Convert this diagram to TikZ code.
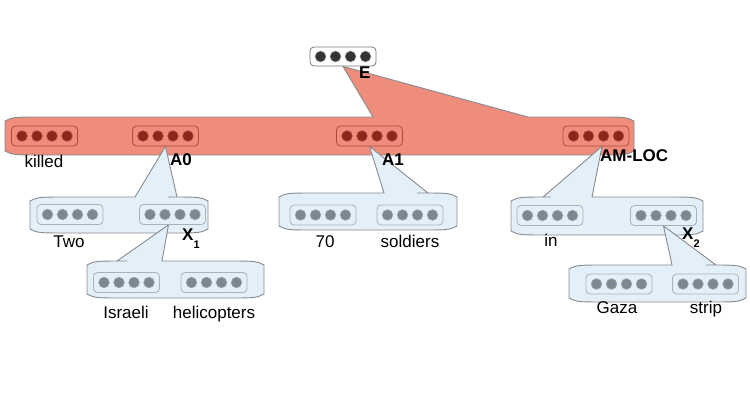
\documentclass[tikz,border=0pt]{standalone}
\usepackage{fontspec}
\setmainfont{Liberation Sans}
\usetikzlibrary{backgrounds}

\definecolor{framered}{RGB}{238,141,124}
\definecolor{vecred}{RGB}{178,72,58}
\definecolor{dotred}{RGB}{138,40,28}
\definecolor{dotredrim}{RGB}{170,70,55}
\definecolor{bubbleblue}{RGB}{228,240,249}
\definecolor{edgegray}{RGB}{135,138,142}
\definecolor{vecgray}{RGB}{168,178,188}
\definecolor{dotgray}{RGB}{125,135,143}
\definecolor{dotgrayrim}{RGB}{152,162,170}
\definecolor{topgray}{RGB}{120,120,120}
\definecolor{dotdark}{RGB}{52,52,52}

% container with a pointer to its parent: style, left, right, top, bottom, foot a, foot b, apex
\newcommand{\callbubble}[8]{%
  \path[#1] (#2,#4+4) .. controls (#2+8,#4) .. (#2+40,#4) -- (#6,#4) -- (#8) -- (#7,#4)
    -- (#3-40,#4) .. controls (#3-8,#4) .. (#3,#4+4) -- (#3,#5-4)
    .. controls (#3-8,#5) .. (#3-40,#5) -- (#2+40,#5) .. controls (#2+8,#5) .. (#2,#5-4) -- cycle;}

\begin{document}
\begin{tikzpicture}[
    x=1pt, y=-1pt,
    font=\fontsize{17}{19}\selectfont,
    vecbox/.style={rectangle, rounded corners=4pt, minimum width=66pt, minimum height=20pt, line width=0.8pt},
    redvec/.style={vecbox, draw=vecred, fill=framered},
    grayvec/.style={vecbox, draw=vecgray},
    topvec/.style={vecbox, draw=topgray, fill=white, minimum height=19pt},
    frame/.style={draw=edgegray, fill=framered, line width=0.9pt},
    bubble/.style={draw=edgegray, fill=bubbleblue, line width=0.9pt},
    reddot/.style={fill=dotred, draw=dotredrim, line width=0.6pt},
    graydot/.style={fill=dotgray, draw=dotgrayrim, line width=0.6pt},
    darkdot/.style={fill=dotdark, draw=topgray, line width=0.6pt},
    word/.style={anchor=base, inner sep=0pt},
    role/.style={anchor=base west, inner sep=0pt, font=\fontsize{17}{19}\selectfont\bfseries}
]
    \useasboundingbox (0,0) rectangle (750,400);

    % Vectors
    \node[topvec] (e) at (343,56.5) {};
    \node[redvec] (killed) at (44.5,136) {};
    \node[redvec] (a0) at (165.5,136) {};
    \node[redvec] (a1) at (369.5,136) {};
    \node[redvec] (amloc) at (596,136) {};
    \node[grayvec] (two) at (70,214.5) {};
    \node[grayvec] (x1) at (172.5,214.5) {};
    \node[grayvec] (israeli) at (126.5,282.5) {};
    \node[grayvec] (heli) at (214,282.5) {};
    \node[grayvec] (seventy) at (323,215) {};
    \node[grayvec] (soldiers) at (410,215) {};
    \node[grayvec] (inw) at (550,215.5) {};
    \node[grayvec] (x2) at (663.5,215.5) {};
    \node[grayvec] (gaza) at (619,284) {};
    \node[grayvec] (strip) at (705.5,284) {};

    % Dots
    \foreach \k in {-22.5,-7.5,7.5,22.5}
      \filldraw[darkdot] ([xshift=\k pt]e.center) circle (5.3pt);
    \foreach \n in {killed,a0,a1,amloc}
      \foreach \k in {-22.5,-7.5,7.5,22.5}
        \filldraw[reddot] ([xshift=\k pt]\n.center) circle (5.3pt);
    \foreach \n in {two,x1,israeli,heli,seventy,soldiers,inw,x2,gaza,strip}
      \foreach \k in {-22.5,-7.5,7.5,22.5}
        \filldraw[graydot] ([xshift=\k pt]\n.center) circle (5.3pt);

    % Containers
    \begin{pgfonlayer}{background}
      \callbubble{frame}{5}{634}{117}{155}{373}{528}{e.south}
      \callbubble{bubble}{30}{208}{197}{233}{135}{177}{a0.south}
      \callbubble{bubble}{87}{264}{261}{298}{117}{162}{[xshift=-4pt]x1.south}
      \callbubble{bubble}{279}{457}{193}{230}{384}{428}{a1.south}
      \callbubble{bubble}{511}{703}{197}{235}{543}{592}{[xshift=6pt]amloc.south}
      \callbubble{bubble}{569}{746}{265}{302}{672}{716}{x2.south}
    \end{pgfonlayer}

    % Words
    \node[word] (wkilled) at (44,167) {killed};
    \node[word] (wtwo) at (69,247) {Two};
    \node[word] (wisraeli) at (126,318) {Israeli};
    \node[word] (wheli) at (214,318) {helicopters};
    \node[word] (wseventy) at (325,247) {70};
    \node[word] (wsoldiers) at (410,247) {soldiers};
    \node[word] (winw) at (551,246) {in};
    \node[word] (wgaza) at (617,313) {Gaza};
    \node[word] (wstrip) at (706,313) {strip};

    % Roles
    \node[role] (re) at (359,78) {E};
    \node[role] (ra0) at (170,165) {A0};
    \node[role] (ra1) at (382,165) {A1};
    \node[role] (ramloc) at (600,161) {AM-LOC};
    \node[role] (rx1) at (182,240) {X\raisebox{-8pt}{\fontsize{11}{11}\selectfont 1}};
    \node[role] (rx2) at (682,239) {X\raisebox{-8pt}{\fontsize{11}{11}\selectfont 2}};
\end{tikzpicture}
\end{document}
